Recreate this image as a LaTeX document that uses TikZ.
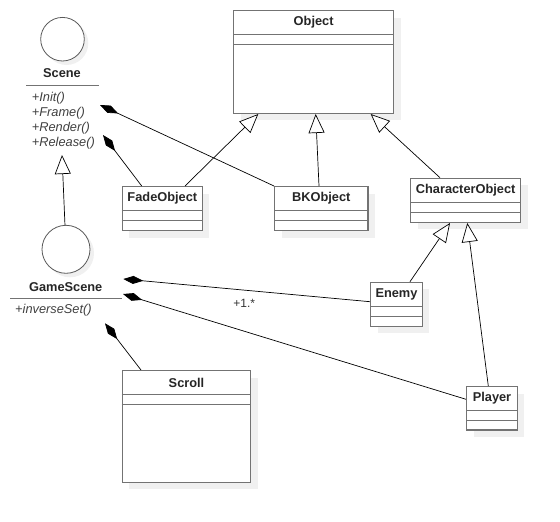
\documentclass[tikz,border=0pt]{standalone}
\usepackage{fontspec}
\setmainfont{Liberation Sans}
\usetikzlibrary{shadows}
\usetikzlibrary{arrows.meta}
\usetikzlibrary{calc,positioning}

\begin{document}
\begin{tikzpicture}[x=1pt, y=-1pt,
    umlclass/.style={
        draw=black!55, line width=1.3pt, fill=white, inner sep=0pt,
        anchor=north west,
        drop shadow={shadow xshift=7pt, shadow yshift=-7pt, fill=black!6, opacity=1}
    },
    classname/.style={font=\fontsize{12.8}{15}\selectfont\bfseries, text=black!85, inner sep=0pt},
    operation/.style={font=\fontsize{12.8}{15}\selectfont\itshape, text=black!75, inner sep=0pt, anchor=base west},
    multiplicity/.style={font=\fontsize{12}{14}\selectfont, text=black!80, inner sep=0pt},
    compartment/.style={draw=black!55, line width=1.3pt},
    iface/.style={
        circle, draw=black!65, line width=0.8pt, fill=white, inner sep=0pt, minimum size=#1,
        drop shadow={shadow xshift=4pt, shadow yshift=-4pt, fill=black!6, opacity=1}
    },
    inherit/.style={-{Triangle[length=19pt, width=16pt, fill=white]}, line width=0.7pt},
    compose/.style={{Diamond[length=20pt, width=8pt]}-, line width=0.7pt}
]

\useasboundingbox (0,0) rectangle (560,522);

%%% classes
\foreach \id/\name/\px/\py/\w/\h in {
    object/Object/233/10/160/102.7,
    fade/FadeObject/121.7/186/80/44,
    bk/BKObject/274/186/93.3/44,
    char/CharacterObject/410/177.7/110/44,
    enemy/Enemy/370/281.7/51.7/44,
    player/Player/466/386/50.7/43.3,
    scroll/Scroll/121.7/370/128.3/111.7}
{
    \node[umlclass, minimum width=\w pt, minimum height=\h pt] (\id) at (\px,\py) {};
    \node[classname] (\id-name) at ($(\id.north)+(0,12.5)$) {\name};
    \draw[compartment] ($(\id.north west)+(0,24.6)$) -- ($(\id.north east)+(0,24.6)$);
    \draw[compartment] ($(\id.north west)+(0,34.6)$) -- ($(\id.north east)+(0,34.6)$);
}

%%% interfaces
\node[iface=43.6pt] (scene) at (62.5,39.2) {};
\node[classname] (scene-name) at (62,73.3) {Scene};
\draw[compartment] (26,85.7) -- (99,85.7);
\foreach \op [count=\i] in {Init,Frame,Render,Release}
    \node[operation] (scene-op\i) at (31.7,{101.3+15*(\i-1)}) {+\op()};

\node[iface=48pt] (gamescene) at (66,249.3) {};
\node[classname] (gamescene-name) at (65.7,286.7) {GameScene};
\draw[compartment] (10,298.3) -- (121.7,298.3);
\node[operation] (gamescene-op1) at (15,313.9) {+inverseSet()};

%%% connectors
\coordinate (scene-c1) at (100,105);
\coordinate (scene-c2) at (103,135);
\coordinate (scene-base) at (62,155);
\coordinate (game-c1) at (123.3,279);
\coordinate (game-c2) at (123,294);
\coordinate (game-c3) at (105,323.3);

\draw[compose] (scene-c1) -- (bk.north west);
\draw[compose] (scene-c2) -- ([xshift=20pt]fade.north west);
\draw[inherit] (gamescene) -- (scene-base);

\draw[inherit] ([xshift=63.3pt]fade.north west) -- ([xshift=25.3pt]object.south west);
\draw[inherit] ([xshift=45pt]bk.north west) -- ([xshift=82.7pt]object.south west);
\draw[inherit] ([xshift=30pt]char.north west) -- ([xshift=137.7pt]object.south west);
\draw[inherit] ([xshift=40pt]enemy.north west) -- ([xshift=40pt]char.south west);
\draw[inherit] ([xshift=22.3pt]player.north west) -- ([xshift=57.3pt]char.south west);

\draw[compose] (game-c1) -- ([yshift=-20pt]enemy.north west);
\node[multiplicity] (enemy-mult) at (244.3,303.3) {+1.*};
\draw[compose] (game-c2) -- ([yshift=-13.3pt]player.north west);
\draw[compose] (game-c3) -- ([xshift=19.3pt]scroll.north west);

\end{tikzpicture}
\end{document}
